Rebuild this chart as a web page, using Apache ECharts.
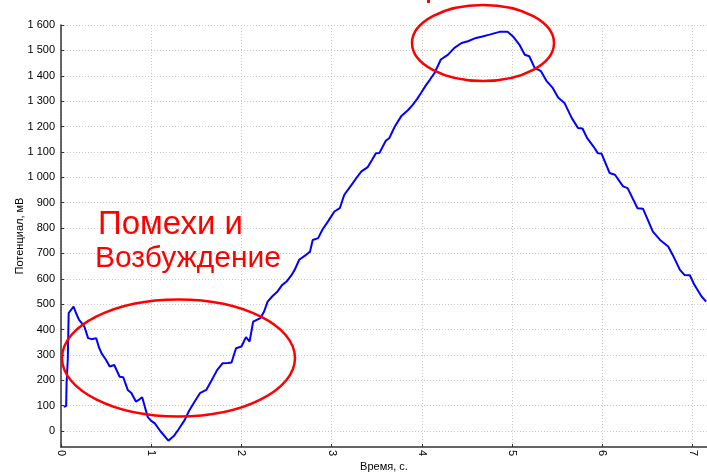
<!DOCTYPE html>
<html>
<head>
<meta charset="utf-8">
<script src="https://cdn.jsdelivr.net/npm/echarts@6/dist/echarts.min.js"></script>
<style>html,body{margin:0;padding:0;background:#fff;}#c{width:707px;height:472px;}</style>
</head>
<body>
<div id="c"></div>
<script>
// Time, s
var timeS = [0.03,0.057,0.062,0.075,0.085,0.139,0.17,0.2,0.23,0.26,0.30,0.34,0.39,0.42,0.45,0.50,0.54,0.59,0.65,0.69,0.74,0.78,0.83,0.87,0.90,0.93,0.96,1.00,1.04,1.10,1.19,1.25,1.30,1.37,1.42,1.48,1.54,1.61,1.67,1.73,1.79,1.85,1.89,1.94,2.00,2.05,2.09,2.13,2.21,2.25,2.29,2.34,2.40,2.45,2.50,2.55,2.59,2.64,2.70,2.76,2.79,2.85,2.90,2.96,3.03,3.09,3.14,3.22,3.28,3.33,3.40,3.45,3.49,3.53,3.60,3.64,3.70,3.77,3.85,3.90,3.95,3.99,4.04,4.09,4.14,4.21,4.29,4.36,4.44,4.51,4.60,4.67,4.75,4.86,4.95,5.01,5.08,5.14,5.19,5.25,5.32,5.38,5.45,5.51,5.58,5.66,5.73,5.78,5.83,5.90,5.95,5.99,6.08,6.14,6.23,6.28,6.39,6.45,6.56,6.64,6.73,6.78,6.86,6.91,6.97,7.02,7.10,7.15];
// Potential, mV
var potentialMV = [96,98,190,280,465,490,462,438,425,411,366,362,366,330,306,280,254,260,214,212,162,150,116,125,133,95,56,40,30,0,-38,-20,5,43,80,115,149,162,200,240,267,268,270,326,333,370,352,431,445,470,510,530,550,575,589,612,635,675,690,707,753,760,795,826,865,878,931,970,1000,1023,1040,1070,1095,1096,1144,1155,1200,1240,1266,1286,1310,1332,1360,1385,1411,1464,1483,1510,1529,1536,1549,1555,1562,1573,1573,1555,1523,1483,1477,1431,1418,1380,1352,1314,1293,1234,1194,1192,1155,1122,1095,1094,1017,1010,964,957,878,876,786,753,727,694,635,615,614,576,530,510];
var yTicks = [0,100,200,300,400,500,600,700,800,900,1000,1100,1200,1300,1400,1500,1600];
var xTicks = [0,1,2,3,4,5,6,7];
var noteLines = ['Помехи и', 'Возбуждение'];

var data = timeS.map(function(t,i){return [t, potentialMV[i]];});
function fmt(v){
  var s = String(Math.round(v));
  if (Math.abs(v) >= 1000) s = s.slice(0, s.length-3) + ' ' + s.slice(s.length-3);
  return s;
}
var font = 'Liberation Sans, Arial, sans-serif';
var chart = echarts.init(document.getElementById('c'), null, {renderer:'canvas'});
chart.setOption({
  animation:false,
  backgroundColor:'#fff',
  grid:{left:61, right:0, top:25, bottom:25, containLabel:false, outerBoundsMode:'none'},
  xAxis:{
    type:'value', min:0, max:7.16, interval:1,
    name:'Время, с.', nameLocation:'middle', nameGap:14, nameMoveOverlap:false,
    nameTextStyle:{fontSize:11, color:'#000', fontFamily:font},
    axisLine:{onZero:false, lineStyle:{color:'#333', width:1.5}},
    axisTick:{inside:true, length:3, lineStyle:{color:'#333'}},
    axisLabel:{rotate:-90, fontSize:11, color:'#000', fontFamily:font, margin:3,
      customValues:xTicks, formatter:function(v){return String(v);}},
    splitLine:{show:true, lineStyle:{color:'#c8c8c8', type:[1,2], width:1}}
  },
  yAxis:{
    type:'value', min:-63, max:1600,
    name:'Потенциал, мВ', nameLocation:'middle', nameGap:36, nameMoveOverlap:false,
    nameTextStyle:{fontSize:11, color:'#000', fontFamily:font},
    axisLine:{show:true, lineStyle:{color:'#333', width:1.5}},
    axisTick:{show:true, inside:true, length:3, customValues:yTicks, lineStyle:{color:'#333'}},
    axisLabel:{fontSize:11, color:'#000', fontFamily:font, margin:6, customValues:yTicks, formatter:fmt},
    splitLine:{show:true, lineStyle:{color:'#c8c8c8', type:[1,2], width:1}}
  },
  series:[{
    type:'line', data:data, showSymbol:false, symbol:'none',
    lineStyle:{color:'#0000ff', width:2}, clip:true
  }],
  graphic:[
    {type:'ellipse', shape:{cx:178.5, cy:358, rx:116.5, ry:58.5}, style:{fill:null, stroke:'#ff0000', lineWidth:2.5}, z:100},
    {type:'ellipse', shape:{cx:483, cy:43, rx:71, ry:38}, style:{fill:null, stroke:'#ff0000', lineWidth:2.5}, z:100},
    {type:'rect', shape:{x:427, y:0, width:3, height:3}, style:{fill:'#ff0000'}, z:100},
    {type:'text', left:98, top:208, style:{text:noteLines[0], fill:'#ff0000', font:'33px Liberation Sans, Arial, sans-serif'}, z:100},
    {type:'text', left:95, top:244, style:{text:noteLines[1], fill:'#ff0000', font:'30px Liberation Sans, Arial, sans-serif'}, z:100}
  ]
});
</script>
</body>
</html>
